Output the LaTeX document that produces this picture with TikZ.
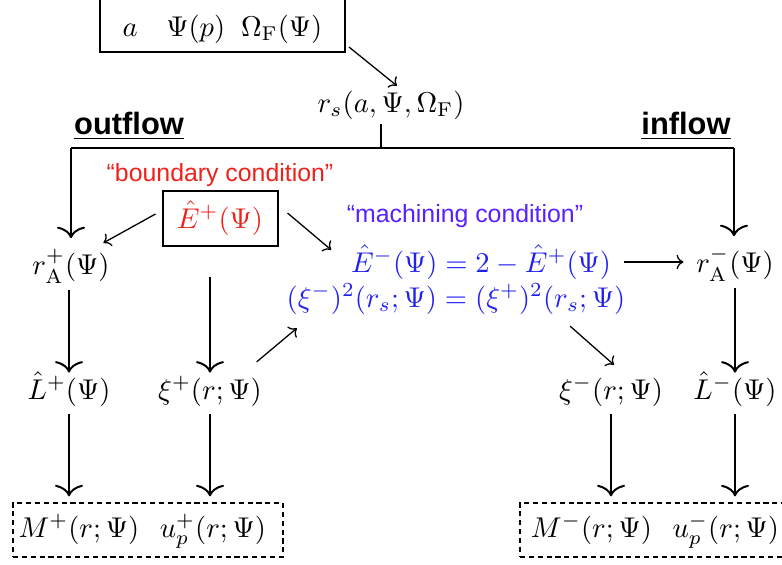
\documentclass[tikz,border=0pt]{standalone}
\usepackage{fontspec}
\newfontfamily\labelfont{Liberation Sans}
\usetikzlibrary{
  calc, % For coordinate calculations
  arrows.meta % For arrow tips
}
\definecolor{bcred}{RGB}{238,34,26}
\definecolor{mcviolet}{RGB}{88,32,255}
\definecolor{eqblue}{RGB}{32,32,240}

\begin{document}
\begin{tikzpicture}[
      x=0.35pt, y=-0.35pt, % pixel grid, y downwards
      flow/.style={line width=0.7pt, -{To[width=9.8pt,length=4pt]}}, % long vertical arrows
      link/.style={line width=0.45pt, -{To[width=5pt,length=2.4pt]}}, % thin side arrows
      qty/.style={inner sep=1.5pt, text height=9.6pt, text depth=2.5pt}, % math quantities
      solidbox/.style={draw, line width=0.7pt},
      dashbox/.style={draw, line width=0.7pt, dash pattern=on 1.8pt off 1.3pt,
        inner sep=0pt, text height=7.5pt, text depth=2.5pt,
        minimum width=94.5pt, minimum height=18.9pt},
      note/.style={font=\labelfont\fontsize{8.7}{10}\selectfont},
      side/.style={font=\labelfont\bfseries\fontsize{10.8}{13}\selectfont},
    ]

    % Rahmen
    \useasboundingbox (0,0) rectangle (782,564);

    % Eingangsgrößen
    \node[solidbox, anchor=base, inner sep=0pt, text height=16.1pt, text depth=5.6pt,
      minimum width=85.75pt] (params) at (222.5,36) {$a\quad\Psi(p)\;\;\Omega_{\mathrm{F}}(\Psi)$};
    \node[qty] (rs) at (391,102) {$r_s(a,\Psi,\Omega_{\mathrm{F}})$};

    % Überschriften
    \node[side] (outflow) at (129,126) {\underline{outflow}};
    \node[side] (inflow) at (686,126) {\underline{inflow}};

    % Verzweigung
    \coordinate (split) at (381,148);
    \coordinate (outL) at (71,148);
    \coordinate (inR) at (734,148);

    % Größen
    \node[qty] (rAp) at (71,264) {$r_{\mathrm{A}}^{+}(\Psi)$};
    \node[qty] (rAm) at (735,262) {$r_{\mathrm{A}}^{-}(\Psi)$};
    \node[note, text=bcred] (bc) at (220,175) {“boundary condition”};
    \node[qty, solidbox, text=bcred, minimum width=40.25pt, minimum height=19.25pt]
      (Ep) at (220,218) {$\hat{E}^{+}(\Psi)$};
    \node[note, text=mcviolet] (mc) at (465,216) {“machining condition”};
    \node[qty, text=eqblue] (Em) at (481,262) {$\hat{E}^{-}(\Psi)=2-\hat{E}^{+}(\Psi)$};
    \node[qty, text=eqblue] (xieq) at (456,297) {$(\xi^{-})^2(r_s;\Psi)=(\xi^{+})^2(r_s;\Psi)$};
    \node[qty] (Lp) at (69,389) {$\hat{L}^{+}(\Psi)$};
    \node[qty] (xip) at (210,389) {$\xi^{+}(r;\Psi)$};
    \node[qty] (xim) at (611,389) {$\xi^{-}(r;\Psi)$};
    \node[qty] (Lm) at (735,389) {$\hat{L}^{-}(\Psi)$};
    \node[dashbox] (Mp) at (148,530) {$M^{+}(r;\Psi)\;\;\,u_p^{+}(r;\Psi)$\hspace*{4pt}};
    \node[dashbox] (Mm) at (655,530) {$M^{-}(r;\Psi)\;\;\,u_p^{-}(r;\Psi)$};

    % Zusammenfluss
    \draw[link] ($(params.south east)+(3,-6)$) -- ($(rs.north)+(6,6)$);
    \draw[line width=0.7pt] (rs.south -| split) -- (split);
    \draw[line width=0.7pt] (outL) -- (inR);
    \draw[flow, shorten >=1.3pt] (outL) -- (outL |- rAp.north);
    \draw[flow, shorten >=1.3pt] (inR) -- (inR |- rAm.north);

    % Rand- und Anschlussbedingung
    \draw[link] ($(Ep.west)+(-6,-4)$) -- ($(rAp.north east)+(-11,1)$);
    \draw[link] ($(Ep.east)+(9,-5)$) -- ($(Em.north west)+(-15,10)$);
    \draw[link, shorten <=2.8pt, shorten >=2.8pt] (Em.east) -- (rAm.west);
    \draw[link] ($(xip.north east)+(-10,-5)$) -- ($(xieq.south west)+(15,9)$);
    \draw[link] ($(xieq.south east)+(-60,7)$) -- ($(xim.north)+(3,-2)$);

    % Vertikale Pfeile
    \draw[flow, shorten <=1.4pt, shorten >=-2pt] (rAp.south -| Lp) -- (Lp.north);
    \draw[flow, shorten <=10.5pt, shorten >=-2pt] (Ep.south -| xip) -- (xip.north);
    \draw[flow, shorten <=1.4pt, shorten >=-2pt] (rAm.south -| Lm) -- (Lm.north);
    \foreach \n/\b in {Lp/Mp, xip/Mp, xim/Mm, Lm/Mm}
    \draw[flow, shorten <=1pt, shorten >=2pt] (\n.south) -- (\n.south |- \b.north);
  \end{tikzpicture}
\end{document}
